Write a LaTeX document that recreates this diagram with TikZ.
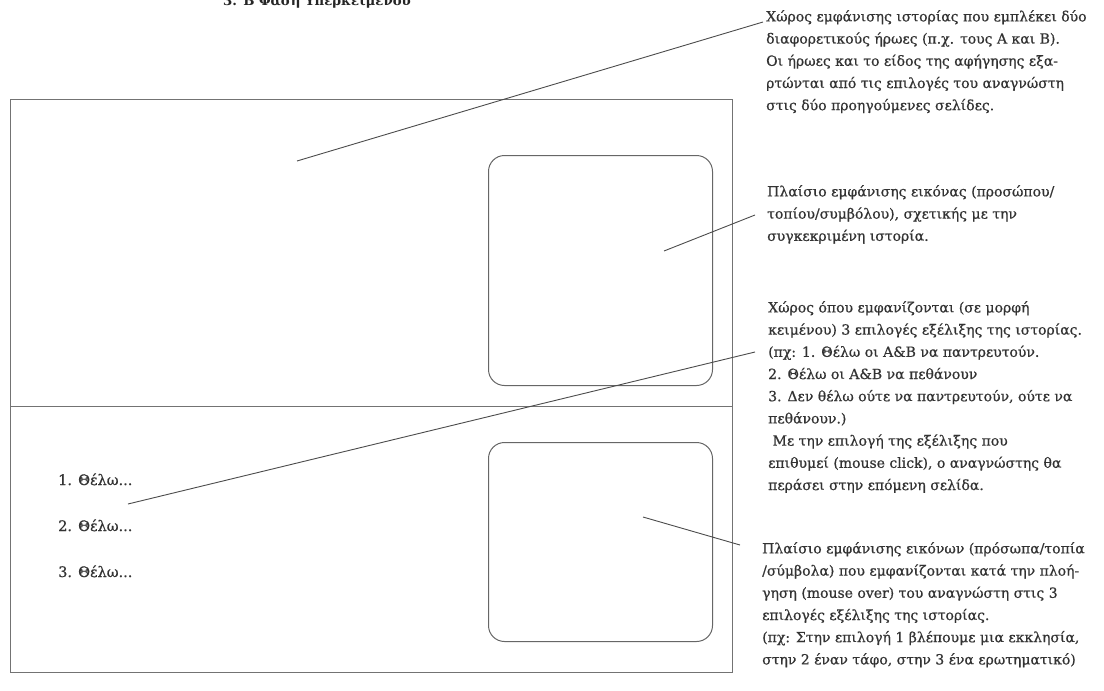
\documentclass[tikz,border=0pt]{standalone}
\usepackage{fontspec}
\setmainfont{DejaVu Serif}
\newfontfamily\notefont[FakeBold=0.6]{DejaVu Serif}
\usetikzlibrary{calc}
\begin{document}
\begin{tikzpicture}[x=1pt,y=-1pt,
  panel/.style={draw=black!55, line width=1.3pt, rectangle, inner sep=0pt, anchor=north west},
  imgbox/.style={draw=black!60, line width=1pt, rectangle, rounded corners=16pt, inner sep=0pt, anchor=north west},
  note/.style={anchor=north west, inner sep=0pt, align=left, text=black!80, font=\notefont\fontsize{14}{22.2}\selectfont},
  choice/.style={anchor=base west, inner sep=0pt, text=black!80, font=\notefont\fontsize{14.5}{16}\selectfont},
  connector/.style={draw=black!70, line width=0.9pt}]
\useasboundingbox (0,0) rectangle (1104,691);
\fill[white] (0,0) rectangle (1104,691);

\node[anchor=base west, inner sep=0pt, font=\bfseries\fontsize{13.3}{16}\selectfont, text=black!85] (title) at (223,5) {3. Β Φάση Υπερκειμένου};

\node[panel, minimum width=722.5pt, minimum height=307pt] (story) at (9.5,99) {};
\node[panel, minimum width=722.5pt, minimum height=266pt] (choices) at (9.5,406) {};
\node[imgbox, minimum width=224pt, minimum height=230pt] (img1) at (488,155) {};
\node[imgbox, minimum width=224pt, minimum height=199pt] (img2) at (488,442) {};

\node[choice] (c1) at (58,485) {1. Θέλω...};
\node[choice] (c2) at (58,531) {2. Θέλω...};
\node[choice] (c3) at (58,577) {3. Θέλω...};

\node[note] (n1) at (766,10) {Χώρος εμφάνισης ιστορίας που εμπλέκει δύο\\
διαφορετικούς ήρωες (π.χ. τους Α και Β).\\
Οι ήρωες και το είδος της αφήγησης εξα-\\
ρτώνται από τις επιλογές του αναγνώστη\\
στις δύο προηγούμενες σελίδες.};

\node[note] (n2) at (767,185) {Πλαίσιο εμφάνισης εικόνας (προσώπου/\\
τοπίου/συμβόλου), σχετικής με την\\
συγκεκριμένη ιστορία.};

\node[note] (n3) at (768,301) {Χώρος όπου εμφανίζονται (σε μορφή\\
κειμένου) 3 επιλογές εξέλιξης της ιστορίας.\\
(πχ: 1. Θέλω οι Α\&Β να παντρευτούν.\\
2. Θέλω οι Α\&Β να πεθάνουν\\
3. Δεν θέλω ούτε να παντρευτούν, ούτε να\\
πεθάνουν.)\\
\ Με την επιλογή της εξέλιξης που\\
επιθυμεί (mouse click), ο αναγνώστης θα\\
περάσει στην επόμενη σελίδα.};

\node[note] (n4) at (762,542) {Πλαίσιο εμφάνισης εικόνων (πρόσωπα/τοπία\\
/σύμβολα) που εμφανίζονται κατά την πλοή-\\
γηση (mouse over) του αναγνώστη στις 3\\
επιλογές εξέλιξης της ιστορίας.\\
(πχ: Στην επιλογή 1 βλέπουμε μια εκκλησία,\\
στην 2 έναν τάφο, στην 3 ένα ερωτηματικό)};

\coordinate (s1) at (297,161);
\coordinate (s2) at (664,251);
\coordinate (s3) at (128,504);
\coordinate (s4) at (643,517);

\draw[connector] (s1) -- ($(n1.north west)+(-3,12)$);
\draw[connector] (s2) -- ($(n2.north west)+(-12,30)$);
\draw[connector] (s3) -- ($(n3.north west)+(-13,51)$);
\draw[connector] (s4) -- ($(n4.north west)+(-22,3)$);
\end{tikzpicture}
\end{document}
